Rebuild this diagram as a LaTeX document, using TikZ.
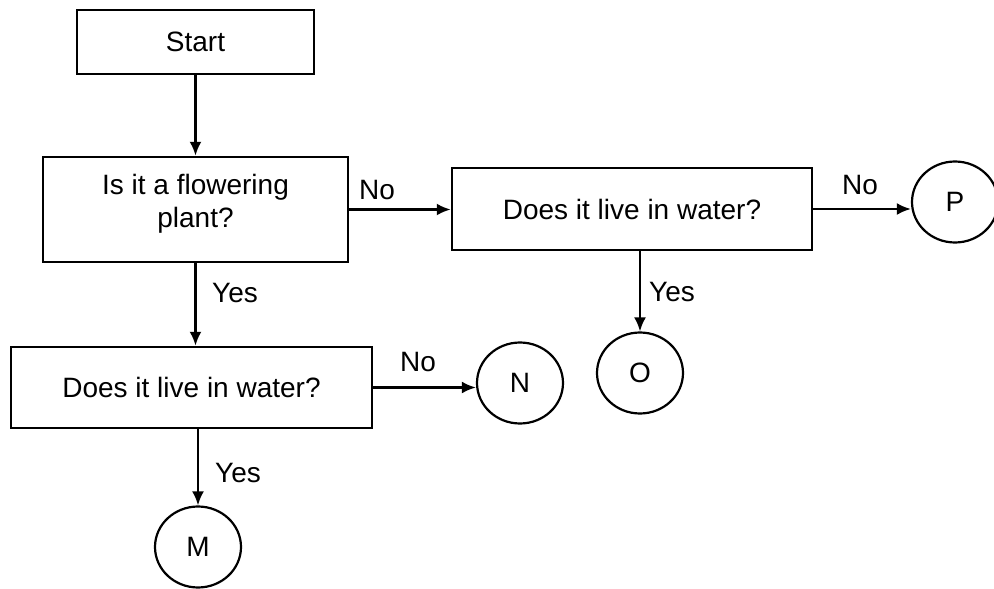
\documentclass[tikz,border=0pt]{standalone}
\usepackage{fontspec}
\setmainfont{Liberation Sans}
\usetikzlibrary{arrows.meta,calc,shapes.geometric}
\begin{document}
\begin{tikzpicture}[x=1pt,y=-1pt,
  every node/.style={font=\fontsize{28}{33}\selectfont},
  box/.style={draw,line width=2.5pt,rectangle,inner sep=0pt,align=center},
  endpt/.style={draw,line width=2.2pt,ellipse,inner sep=0pt,minimum width=86pt,minimum height=81pt},
  lbl/.style={inner sep=0pt},
  conn/.style={line width=2.4pt,-{Latex[length=14pt,width=12pt]}}]
\useasboundingbox (0,0) rectangle (994,589);
\node[box,minimum width=237pt,minimum height=64pt] (start) at (195.5,42) {Start};
\node[box,minimum width=305pt,minimum height=105pt,text depth=18pt] (q1) at (195.5,209.5) {Is it a flowering\\plant?};
\node[box,minimum width=360pt,minimum height=82pt] (q3) at (632,209) {Does it live in water?};
\node[box,minimum width=361pt,minimum height=81pt] (q2) at (191.5,387.5) {Does it live in water?};
\node[endpt] (N) at (520,383) {N};
\node[endpt] (O) at (640,373) {O};
\node[endpt] (P) at (955,202) {P};
\node[endpt] (M) at (198,547) {M};
\draw[conn] (start) -- (q1);
\draw[conn] (q1.south) -- (q1.south |- q2.north);
\draw[conn] (M.north |- q2.south) -- (M.north);
\draw[conn] (q1.east) -- (q1.east -| q3.west);
\draw[conn] (q3.east) -- (q3.east -| P.west);
\draw[conn] (O.north |- q3.south) -- (O.north);
\draw[conn] (q2.east) -- (q2.east -| N.west);
\node[lbl] (l1) at (377,190) {No};
\node[lbl] (l2) at (235,293) {Yes};
\node[lbl] (l3) at (418,362) {No};
\node[lbl] (l4) at (238,473) {Yes};
\node[lbl] (l5) at (860,185) {No};
\node[lbl] (l6) at (672,292) {Yes};
\end{tikzpicture}
\end{document}
